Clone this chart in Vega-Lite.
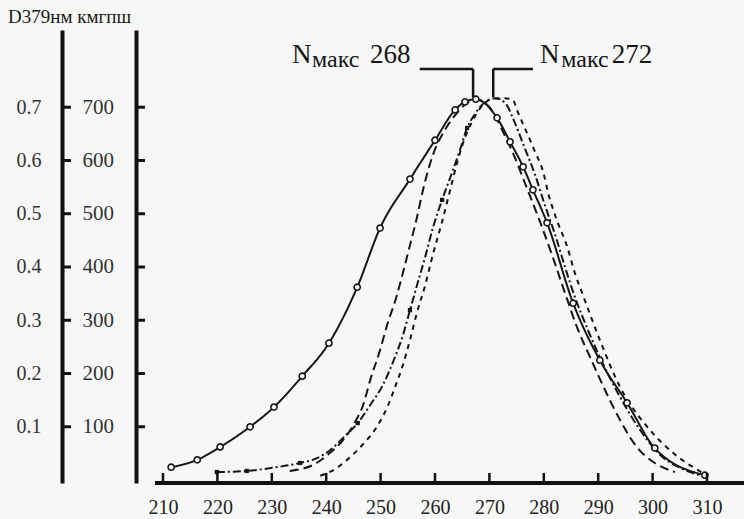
{
  "$schema": "https://vega.github.io/schema/vega-lite/v6.json",
  "width": 589,
  "height": 453,
  "autosize": {"type": "none"},
  "padding": {"left": 155, "top": 30, "right": 0, "bottom": 36},
  "background": "#f7f7f7",
  "config": {"view": {"stroke": null}, "font": "Liberation Serif"},
  "title": {"text": "D379нм кмгпш", "anchor": "start", "frame": "group", "dx": -147, "offset": 3, "font": "Liberation Serif", "fontSize": 19, "fontWeight": "normal", "color": "#1a1a1a"},
  "datasets": {
    "spectra": [
      {"series": "A", "wavelength": 211.5, "D": 0.024},
      {"series": "A", "wavelength": 216.3, "D": 0.038},
      {"series": "A", "wavelength": 220.5, "D": 0.062},
      {"series": "A", "wavelength": 226.0, "D": 0.100},
      {"series": "A", "wavelength": 230.4, "D": 0.137},
      {"series": "A", "wavelength": 235.6, "D": 0.195},
      {"series": "A", "wavelength": 240.5, "D": 0.257},
      {"series": "A", "wavelength": 245.7, "D": 0.362},
      {"series": "A", "wavelength": 249.9, "D": 0.473},
      {"series": "A", "wavelength": 255.4, "D": 0.565},
      {"series": "A", "wavelength": 260.0, "D": 0.638},
      {"series": "A", "wavelength": 263.7, "D": 0.695},
      {"series": "A", "wavelength": 265.5, "D": 0.710},
      {"series": "A", "wavelength": 267.5, "D": 0.715},
      {"series": "A", "wavelength": 271.4, "D": 0.680},
      {"series": "A", "wavelength": 273.8, "D": 0.635},
      {"series": "A", "wavelength": 276.2, "D": 0.588},
      {"series": "A", "wavelength": 278.0, "D": 0.545},
      {"series": "A", "wavelength": 280.6, "D": 0.483},
      {"series": "A", "wavelength": 285.4, "D": 0.332},
      {"series": "A", "wavelength": 290.3, "D": 0.225},
      {"series": "A", "wavelength": 295.3, "D": 0.145},
      {"series": "A", "wavelength": 300.4, "D": 0.060},
      {"series": "A", "wavelength": 309.6, "D": 0.009},
      {"series": "B", "wavelength": 233.3, "D": 0.017},
      {"series": "B", "wavelength": 237.9, "D": 0.030},
      {"series": "B", "wavelength": 240.7, "D": 0.051},
      {"series": "B", "wavelength": 243.1, "D": 0.075},
      {"series": "B", "wavelength": 245.2, "D": 0.107},
      {"series": "B", "wavelength": 246.8, "D": 0.141},
      {"series": "B", "wavelength": 248.1, "D": 0.188},
      {"series": "B", "wavelength": 249.9, "D": 0.244},
      {"series": "B", "wavelength": 251.2, "D": 0.291},
      {"series": "B", "wavelength": 253.0, "D": 0.347},
      {"series": "B", "wavelength": 254.1, "D": 0.389},
      {"series": "B", "wavelength": 255.4, "D": 0.441},
      {"series": "B", "wavelength": 256.7, "D": 0.494},
      {"series": "B", "wavelength": 257.8, "D": 0.545},
      {"series": "B", "wavelength": 259.6, "D": 0.610},
      {"series": "B", "wavelength": 261.8, "D": 0.657},
      {"series": "B", "wavelength": 263.7, "D": 0.685},
      {"series": "B", "wavelength": 265.9, "D": 0.708},
      {"series": "B", "wavelength": 267.5, "D": 0.715},
      {"series": "B", "wavelength": 270.1, "D": 0.699},
      {"series": "B", "wavelength": 272.5, "D": 0.654},
      {"series": "B", "wavelength": 274.7, "D": 0.605},
      {"series": "B", "wavelength": 276.9, "D": 0.548},
      {"series": "B", "wavelength": 279.3, "D": 0.485},
      {"series": "B", "wavelength": 281.7, "D": 0.417},
      {"series": "B", "wavelength": 283.9, "D": 0.351},
      {"series": "B", "wavelength": 286.1, "D": 0.287},
      {"series": "B", "wavelength": 288.5, "D": 0.231},
      {"series": "B", "wavelength": 291.25, "D": 0.169},
      {"series": "B", "wavelength": 294.0, "D": 0.113},
      {"series": "B", "wavelength": 297.1, "D": 0.062},
      {"series": "B", "wavelength": 300.4, "D": 0.032},
      {"series": "B", "wavelength": 304.1, "D": 0.015},
      {"series": "C", "wavelength": 219.9, "D": 0.015},
      {"series": "C", "wavelength": 225.4, "D": 0.017},
      {"series": "C", "wavelength": 230.2, "D": 0.023},
      {"series": "C", "wavelength": 235.2, "D": 0.032},
      {"series": "C", "wavelength": 238.3, "D": 0.041},
      {"series": "C", "wavelength": 240.7, "D": 0.056},
      {"series": "C", "wavelength": 243.5, "D": 0.083},
      {"series": "C", "wavelength": 245.8, "D": 0.107},
      {"series": "C", "wavelength": 248.1, "D": 0.141},
      {"series": "C", "wavelength": 250.4, "D": 0.178},
      {"series": "C", "wavelength": 252.3, "D": 0.222},
      {"series": "C", "wavelength": 254.1, "D": 0.272},
      {"series": "C", "wavelength": 255.4, "D": 0.319},
      {"series": "C", "wavelength": 256.7, "D": 0.366},
      {"series": "C", "wavelength": 258.2, "D": 0.419},
      {"series": "C", "wavelength": 259.6, "D": 0.473},
      {"series": "C", "wavelength": 261.3, "D": 0.526},
      {"series": "C", "wavelength": 263.3, "D": 0.582},
      {"series": "C", "wavelength": 264.6, "D": 0.620},
      {"series": "C", "wavelength": 265.9, "D": 0.661},
      {"series": "C", "wavelength": 267.2, "D": 0.685},
      {"series": "C", "wavelength": 268.6, "D": 0.704},
      {"series": "C", "wavelength": 271.0, "D": 0.717},
      {"series": "C", "wavelength": 272.9, "D": 0.708},
      {"series": "C", "wavelength": 274.7, "D": 0.670},
      {"series": "C", "wavelength": 276.5, "D": 0.623},
      {"series": "C", "wavelength": 278.4, "D": 0.573},
      {"series": "C", "wavelength": 280.2, "D": 0.516},
      {"series": "C", "wavelength": 282.1, "D": 0.460},
      {"series": "C", "wavelength": 283.9, "D": 0.400},
      {"series": "C", "wavelength": 285.7, "D": 0.344},
      {"series": "C", "wavelength": 288.1, "D": 0.282},
      {"series": "C", "wavelength": 290.7, "D": 0.222},
      {"series": "C", "wavelength": 294.0, "D": 0.156},
      {"series": "C", "wavelength": 297.7, "D": 0.094},
      {"series": "C", "wavelength": 301.4, "D": 0.047},
      {"series": "C", "wavelength": 305.0, "D": 0.023},
      {"series": "C", "wavelength": 308.7, "D": 0.009},
      {"series": "D", "wavelength": 238.9, "D": 0.008},
      {"series": "D", "wavelength": 242.0, "D": 0.023},
      {"series": "D", "wavelength": 244.4, "D": 0.043},
      {"series": "D", "wavelength": 247.1, "D": 0.071},
      {"series": "D", "wavelength": 249.5, "D": 0.103},
      {"series": "D", "wavelength": 251.4, "D": 0.141},
      {"series": "D", "wavelength": 252.6, "D": 0.173},
      {"series": "D", "wavelength": 254.1, "D": 0.216},
      {"series": "D", "wavelength": 255.4, "D": 0.263},
      {"series": "D", "wavelength": 256.7, "D": 0.315},
      {"series": "D", "wavelength": 258.2, "D": 0.366},
      {"series": "D", "wavelength": 259.6, "D": 0.423},
      {"series": "D", "wavelength": 261.3, "D": 0.485},
      {"series": "D", "wavelength": 262.8, "D": 0.545},
      {"series": "D", "wavelength": 264.2, "D": 0.601},
      {"series": "D", "wavelength": 265.7, "D": 0.648},
      {"series": "D", "wavelength": 267.2, "D": 0.680},
      {"series": "D", "wavelength": 268.6, "D": 0.702},
      {"series": "D", "wavelength": 270.1, "D": 0.714},
      {"series": "D", "wavelength": 271.9, "D": 0.717},
      {"series": "D", "wavelength": 274.2, "D": 0.715},
      {"series": "D", "wavelength": 275.3, "D": 0.689},
      {"series": "D", "wavelength": 276.9, "D": 0.652},
      {"series": "D", "wavelength": 278.4, "D": 0.616},
      {"series": "D", "wavelength": 279.9, "D": 0.578},
      {"series": "D", "wavelength": 280.8, "D": 0.539},
      {"series": "D", "wavelength": 282.4, "D": 0.488},
      {"series": "D", "wavelength": 284.3, "D": 0.438},
      {"series": "D", "wavelength": 285.7, "D": 0.389},
      {"series": "D", "wavelength": 287.2, "D": 0.347},
      {"series": "D", "wavelength": 290.3, "D": 0.263},
      {"series": "D", "wavelength": 294.0, "D": 0.175},
      {"series": "D", "wavelength": 299.0, "D": 0.100},
      {"series": "D", "wavelength": 303.75, "D": 0.051},
      {"series": "D", "wavelength": 309.3, "D": 0.013}
    ],
    "cmarks": [
      {"wavelength": 219.9, "D": 0.015},
      {"wavelength": 225.4, "D": 0.017},
      {"wavelength": 235.2, "D": 0.032},
      {"wavelength": 245.8, "D": 0.107},
      {"wavelength": 255.4, "D": 0.319},
      {"wavelength": 261.3, "D": 0.526},
      {"wavelength": 265.9, "D": 0.661}
    ],
    "leaders": [
      {"w1": 257.2, "w2": 267.0, "d1": 0.772, "d2": 0.772},
      {"w1": 267.0, "w2": 267.0, "d1": 0.772, "d2": 0.719},
      {"w1": 270.7, "w2": 270.7, "d1": 0.719, "d2": 0.772},
      {"w1": 270.7, "w2": 278.0, "d1": 0.772, "d2": 0.772}
    ],
    "annMain": [
      {"t": "N", "w": 233.7, "d": 0.783},
      {"t": "268", "w": 248.05, "d": 0.783},
      {"t": "N", "w": 279.3, "d": 0.783},
      {"t": "272", "w": 292.5, "d": 0.783}
    ],
    "annSub": [
      {"t": "макс", "w": 237.4, "d": 0.776},
      {"t": "макс", "w": 283.2, "d": 0.776}
    ],
    "xticks": [
      {"wavelength": 210}, {"wavelength": 220}, {"wavelength": 230}, {"wavelength": 240},
      {"wavelength": 250}, {"wavelength": 260}, {"wavelength": 270}, {"wavelength": 280},
      {"wavelength": 290}, {"wavelength": 300}, {"wavelength": 310}
    ],
    "yticks": [
      {"D": 0.1}, {"D": 0.2}, {"D": 0.3}, {"D": 0.4}, {"D": 0.5}, {"D": 0.6}, {"D": 0.7}
    ]
  },
  "resolve": {"scale": {"y": "independent"}, "axis": {"x": "independent"}},
  "layer": [
    {
      "data": {"name": "spectra"},
      "mark": {"type": "line", "interpolate": "monotone", "color": "#151515", "strokeWidth": 2},
      "encoding": {
        "x": {
          "field": "wavelength", "type": "quantitative",
          "scale": {"domain": [208.53, 316.8], "nice": false, "zero": false},
          "axis": {"orient": "bottom", "values": [210, 220, 230, 240, 250, 260, 270, 280, 290, 300, 310], "format": "d", "title": null, "grid": false, "domain": false, "ticks": false, "labelPadding": 14, "labelFont": "Liberation Serif", "labelFontSize": 20, "labelColor": "#222", "labelFlush": false, "labelOverlap": false}
        },
        "y": {
          "field": "D", "type": "quantitative",
          "scale": {"domain": [-0.0056, 0.845], "nice": false, "zero": false},
          "axis": {"orient": "left", "offset": 93, "values": [0.1, 0.2, 0.3, 0.4, 0.5, 0.6, 0.7], "format": ".1f", "title": null, "grid": false, "ticks": false, "domainColor": "#111", "domainWidth": 4, "labelPadding": 21, "labelFont": "Liberation Serif", "labelFontSize": 20, "labelColor": "#333"}
        },
        "strokeDash": {
          "field": "series", "type": "nominal",
          "scale": {"domain": ["A", "B", "C", "D"], "range": [[1, 0], [9, 5], [8, 3, 2, 3], [5, 5]]},
          "legend": null
        }
      }
    },
    {
      "data": {"name": "spectra"},
      "transform": [{"filter": "datum.series === 'A'"}],
      "mark": {"type": "point", "shape": "circle", "filled": true, "fill": "#f7f7f7", "stroke": "#151515", "strokeWidth": 1.6, "size": 38, "opacity": 1},
      "encoding": {
        "x": {"field": "wavelength", "type": "quantitative", "scale": {"domain": [208.53, 316.8], "nice": false, "zero": false}, "axis": null},
        "y": {
          "field": "D", "type": "quantitative",
          "scale": {"domain": [-0.0056, 0.845], "nice": false, "zero": false},
          "axis": {"orient": "right", "offset": -682, "values": [0.1, 0.2, 0.3, 0.4, 0.5, 0.6, 0.7], "labelExpr": "format(round(datum.value * 1000), 'd')", "title": null, "grid": false, "domain": false, "ticks": false, "labelPadding": 20, "labelAlign": "left", "labelFont": "Liberation Serif", "labelFontSize": 21, "labelColor": "#333"}
        }
      }
    },
    {
      "data": {"name": "cmarks"},
      "mark": {"type": "point", "shape": "square", "filled": true, "color": "#151515", "size": 18, "opacity": 1},
      "encoding": {
        "x": {"field": "wavelength", "type": "quantitative", "scale": {"domain": [208.53, 316.8], "nice": false, "zero": false}, "axis": null},
        "y": {
          "field": "D", "type": "quantitative",
          "scale": {"domain": [-0.0056, 0.845], "nice": false, "zero": false},
          "axis": {"orient": "right", "offset": -608, "labels": false, "ticks": false, "title": null, "grid": false, "domain": true, "domainColor": "#111", "domainWidth": 4}
        }
      }
    },
    {
      "data": {"name": "xticks"},
      "transform": [{"calculate": "0.0038", "as": "mid"}],
      "mark": {"type": "tick", "orient": "vertical", "color": "#111", "size": 10, "thickness": 2.5, "opacity": 1},
      "encoding": {
        "x": {"field": "wavelength", "type": "quantitative", "scale": {"domain": [208.53, 316.8], "nice": false, "zero": false}, "axis": null},
        "y": {"field": "mid", "type": "quantitative", "scale": {"domain": [-0.0056, 0.845], "nice": false, "zero": false}, "axis": null}
      }
    },
    {
      "data": {"name": "xticks"},
      "transform": [{"aggregate": [{"op": "min", "field": "wavelength", "as": "lo"}]}, {"calculate": "208.53", "as": "w1"}, {"calculate": "316.8", "as": "w2"}, {"calculate": "-0.0094", "as": "b1"}, {"calculate": "-0.0018", "as": "b2"}],
      "mark": {"type": "rect", "color": "#111", "opacity": 1},
      "encoding": {
        "x": {"field": "w1", "type": "quantitative", "scale": {"domain": [208.53, 316.8], "nice": false, "zero": false}, "axis": null},
        "x2": {"field": "w2"},
        "y": {"field": "b1", "type": "quantitative", "scale": {"domain": [-0.0056, 0.845], "nice": false, "zero": false}, "axis": null},
        "y2": {"field": "b2"}
      }
    },
    {
      "data": {"name": "yticks"},
      "transform": [{"calculate": "192.26", "as": "wc"}],
      "mark": {"type": "tick", "orient": "horizontal", "color": "#111", "size": 9, "thickness": 3, "opacity": 1},
      "encoding": {
        "x": {"field": "wc", "type": "quantitative", "scale": {"domain": [208.53, 316.8], "nice": false, "zero": false}, "axis": null},
        "y": {"field": "D", "type": "quantitative", "scale": {"domain": [-0.0056, 0.845], "nice": false, "zero": false}, "axis": null}
      }
    },
    {
      "data": {"name": "yticks"},
      "transform": [{"calculate": "205.86", "as": "wc"}],
      "mark": {"type": "tick", "orient": "horizontal", "color": "#111", "size": 9, "thickness": 3, "opacity": 1},
      "encoding": {
        "x": {"field": "wc", "type": "quantitative", "scale": {"domain": [208.53, 316.8], "nice": false, "zero": false}, "axis": null},
        "y": {"field": "D", "type": "quantitative", "scale": {"domain": [-0.0056, 0.845], "nice": false, "zero": false}, "axis": null}
      }
    },
    {
      "data": {"name": "leaders"},
      "mark": {"type": "rule", "color": "#151515", "strokeWidth": 2.5},
      "encoding": {
        "x": {"field": "w1", "type": "quantitative", "scale": {"domain": [208.53, 316.8], "nice": false, "zero": false}, "axis": null},
        "x2": {"field": "w2"},
        "y": {"field": "d1", "type": "quantitative", "scale": {"domain": [-0.0056, 0.845], "nice": false, "zero": false}, "axis": null},
        "y2": {"field": "d2"}
      }
    },
    {
      "data": {"name": "annMain"},
      "mark": {"type": "text", "align": "left", "baseline": "alphabetic", "font": "Liberation Serif", "fontSize": 27, "color": "#151515"},
      "encoding": {
        "x": {"field": "w", "type": "quantitative", "scale": {"domain": [208.53, 316.8], "nice": false, "zero": false}, "axis": null},
        "y": {"field": "d", "type": "quantitative", "scale": {"domain": [-0.0056, 0.845], "nice": false, "zero": false}, "axis": null},
        "text": {"field": "t"}
      }
    },
    {
      "data": {"name": "annSub"},
      "mark": {"type": "text", "align": "left", "baseline": "alphabetic", "font": "Liberation Serif", "fontSize": 24, "color": "#151515"},
      "encoding": {
        "x": {"field": "w", "type": "quantitative", "scale": {"domain": [208.53, 316.8], "nice": false, "zero": false}, "axis": null},
        "y": {"field": "d", "type": "quantitative", "scale": {"domain": [-0.0056, 0.845], "nice": false, "zero": false}, "axis": null},
        "text": {"field": "t"}
      }
    }
  ]
}
